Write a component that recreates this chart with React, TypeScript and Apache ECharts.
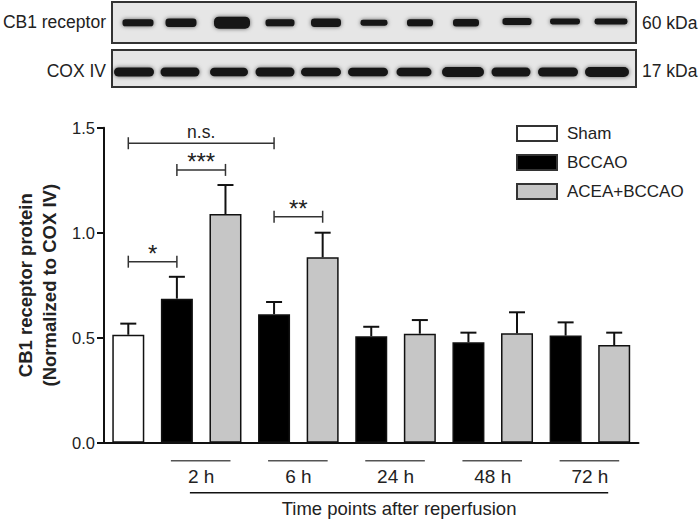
import React, { useEffect, useRef } from 'react';
import * as echarts from 'echarts';

// ---------- data ----------
const categories = [
  'Sham',
  'BCCAO 2 h', 'ACEA+BCCAO 2 h',
  'BCCAO 6 h', 'ACEA+BCCAO 6 h',
  'BCCAO 24 h', 'ACEA+BCCAO 24 h',
  'BCCAO 48 h', 'ACEA+BCCAO 48 h',
  'BCCAO 72 h', 'ACEA+BCCAO 72 h',
];
const timePoints = ['2 h', '6 h', '24 h', '48 h', '72 h'];
const seriesNames = ['Sham', 'BCCAO', 'ACEA+BCCAO'];

const shamMean = 0.514;
const shamSem = 0.053;
const bccaoMeans = [0.686, 0.612, 0.507, 0.478, 0.510];
const bccaoSems = [0.104, 0.058, 0.045, 0.046, 0.063];
const aceaMeans = [1.089, 0.883, 0.519, 0.521, 0.465];
const aceaSems = [0.138, 0.117, 0.065, 0.100, 0.059];

const yTickLabels = ['0.0', '0.5', '1.0', '1.5'];

// significance brackets (category index from / to, height, label)
const bracketFrom = [0, 1, 0, 3];
const bracketTo = [1, 2, 3, 4];
const bracketY = [0.862, 1.299, 1.426, 1.076];
const bracketLabel = ['*', '***', 'n.s.', '**'];

// western blot decoration (lane centres, band widths/heights)
const cb1LaneX = [138, 181, 232, 280, 326, 374, 420, 466, 517, 565, 611];
const cb1BandW = [31, 31, 36, 29, 30, 27, 26, 26, 29, 30, 33];
const cb1BandH = [7, 8.5, 12, 7, 8.5, 6, 7, 7.5, 7, 6, 6];
const coxLaneX = [134, 180, 229, 275, 321, 368, 414, 463, 511, 558, 607];
const coxBandW = [40, 39, 38, 39, 40, 40, 35, 42, 39, 40, 44];
const coxBandH = [9, 9, 8.5, 9, 8.5, 8.5, 8.5, 10, 9, 9, 10];

const FONT = 'Liberation Sans, Arial, Helvetica, sans-serif';
const TXT = '#222';

export default function App() {
  const ref = useRef<HTMLDivElement>(null);

  useEffect(() => {
    if (!ref.current) return;
    const chart = echarts.init(ref.current, null, { renderer: 'svg' });

    const shamData = categories.map((_, i) => (i === 0 ? shamMean : '-'));
    const bccaoData = categories.map((_, i) => {
      if (i > 0 && i % 2 === 1) return bccaoMeans[(i - 1) / 2];
      return '-';
    });
    const aceaData = categories.map((_, i) => {
      if (i > 0 && i % 2 === 0) return aceaMeans[(i - 2) / 2];
      return '-';
    });

    const errData: number[][] = [[0, shamMean, shamMean + shamSem]];
    bccaoMeans.forEach((m, g) => errData.push([1 + 2 * g, m, m + bccaoSems[g]]));
    aceaMeans.forEach((m, g) => errData.push([2 + 2 * g, m, m + aceaSems[g]]));

    const bracketData = bracketFrom.map((f, i) => [f, bracketTo[i], bracketY[i]]);
    const groupData = timePoints.map((_, g) => [1 + 2 * g, 2 + 2 * g, 0]);

    const barCommon = {
      type: 'bar' as const,
      barWidth: 32,
      barGap: '-100%',
      z: 3,
    };

    // blot graphics
    const blot: any[] = [];
    blot.push({
      type: 'rect', shape: { x: 112, y: 2, width: 524, height: 41 },
      style: { fill: '#e6e6e6', stroke: '#333', lineWidth: 2 },
    });
    blot.push({
      type: 'rect', shape: { x: 112, y: 50, width: 524, height: 37 },
      style: { fill: '#e6e6e6', stroke: '#333', lineWidth: 2 },
    });
    cb1LaneX.forEach((x, i) => {
      const w = cb1BandW[i], h = cb1BandH[i];
      const cy = i >= 8 ? 21.5 : 22.7;
      blot.push({
        type: 'rect',
        shape: { x: x - w / 2, y: cy - h / 2, width: w, height: h, r: h / 2.5 },
        style: { fill: '#151515', shadowBlur: 4, shadowColor: 'rgba(0,0,0,0.6)' },
      });
    });
    coxLaneX.forEach((x, i) => {
      const w = coxBandW[i], h = coxBandH[i];
      blot.push({
        type: 'rect',
        shape: { x: x - w / 2, y: 72 - h / 2, width: w, height: h, r: h / 2 },
        style: { fill: '#151515', shadowBlur: 4, shadowColor: 'rgba(0,0,0,0.6)' },
      });
    });
    const blotText = (t: string, x: number, y: number, align: string) => ({
      type: 'text', x, y,
      style: { text: t, fill: TXT, font: `17.5px ${FONT}`, textAlign: align, textVerticalAlign: 'middle' },
    });
    blot.push(blotText('CB1 receptor', 106, 22, 'right'));
    blot.push(blotText('COX IV', 106, 71, 'right'));
    blot.push(blotText('60 kDa', 642, 23, 'left'));
    blot.push(blotText('17 kDa', 642, 71, 'left'));

    chart.setOption({
      animation: false,
      backgroundColor: '#fff',
      textStyle: { fontFamily: FONT },
      grid: { left: 104, right: 61.5, top: 127.7, bottom: 78.3, containLabel: false },
      legend: {
        data: seriesNames,
        orient: 'vertical',
        left: 511,
        top: 120,
        itemWidth: 40,
        itemHeight: 15,
        itemGap: 12,
        icon: 'rect',
        itemStyle: { borderColor: '#333', borderWidth: 2 },
        textStyle: { fontSize: 17, color: TXT, fontFamily: FONT, padding: [0, 0, 0, 5] },
        selectedMode: false,
      },
      xAxis: {
        type: 'category',
        data: categories,
        axisLine: { lineStyle: { color: '#111', width: 2 } },
        axisTick: { alignWithLabel: true, length: 7, lineStyle: { color: '#111', width: 2 }, interval: 0 },
        axisLabel: { show: false },
      },
      yAxis: {
        type: 'value',
        min: 0,
        max: 1.5,
        interval: 0.5,
        name: 'CB1 receptor protein\n(Normalized to COX IV)',
        nameLocation: 'middle',
        nameRotate: 90,
        nameGap: 37,
        nameTextStyle: { fontSize: 18.5, fontWeight: 'bold', color: TXT, lineHeight: 24, fontFamily: FONT },
        axisLine: { show: true, lineStyle: { color: '#111', width: 2 } },
        axisTick: { show: true, length: 7, lineStyle: { color: '#111', width: 2 } },
        splitLine: { show: false },
        axisLabel: {
          fontSize: 16.5, color: TXT, margin: 9, fontFamily: FONT,
          formatter: (v: number) => yTickLabels[Math.round(v / 0.5)] ?? v.toFixed(1),
        },
      },
      graphic: blot,
      series: [
        { ...barCommon, name: 'Sham', data: shamData, itemStyle: { color: '#fff', borderColor: '#111', borderWidth: 1.5 } },
        { ...barCommon, name: 'BCCAO', data: bccaoData, itemStyle: { color: '#000', borderColor: '#111', borderWidth: 1.5 } },
        { ...barCommon, name: 'ACEA+BCCAO', data: aceaData, itemStyle: { color: '#c6c6c6', borderColor: '#111', borderWidth: 1.5 } },
        {
          type: 'custom',
          name: 'err',
          silent: true,
          z: 2,
          data: errData,
          encode: { x: 0, y: [1, 2] },
          renderItem: (params: any, api: any) => {
            const x = api.value(0);
            const p1 = api.coord([x, api.value(1)]);
            const p2 = api.coord([x, api.value(2)]);
            const st = { stroke: '#111', lineWidth: 2 };
            return {
              type: 'group',
              children: [
                { type: 'line', shape: { x1: p1[0], y1: p1[1], x2: p2[0], y2: p2[1] }, style: st },
                { type: 'line', shape: { x1: p2[0] - 8, y1: p2[1], x2: p2[0] + 8, y2: p2[1] }, style: st },
              ],
            };
          },
        },
        {
          type: 'custom',
          name: 'brackets',
          silent: true,
          clip: false,
          data: bracketData,
          encode: { x: [0, 1], y: 2 },
          renderItem: (params: any, api: any) => {
            const a = api.coord([api.value(0), api.value(2)]);
            const b = api.coord([api.value(1), api.value(2)]);
            const label = bracketLabel[params.dataIndex];
            const st = { stroke: '#333', lineWidth: 1.5 };
            const isStar = label.indexOf('*') >= 0;
            return {
              type: 'group',
              children: [
                { type: 'line', shape: { x1: a[0], y1: a[1], x2: b[0], y2: b[1] }, style: st },
                { type: 'line', shape: { x1: a[0], y1: a[1] - 6, x2: a[0], y2: a[1] + 6 }, style: st },
                { type: 'line', shape: { x1: b[0], y1: b[1] - 6, x2: b[0], y2: b[1] + 6 }, style: st },
                {
                  type: 'text',
                  x: (a[0] + b[0]) / 2,
                  y: a[1] - (isStar ? 8 : 11),
                  style: {
                    text: label, fill: TXT,
                    font: `${isStar ? 24 : 17.5}px ${FONT}`,
                    textAlign: 'center', textVerticalAlign: 'middle',
                  },
                },
              ],
            };
          },
        },
        {
          type: 'custom',
          name: 'groups',
          silent: true,
          clip: false,
          data: groupData,
          encode: { x: [0, 1], y: 2 },
          renderItem: (params: any, api: any) => {
            const c1 = api.coord([api.value(0), 0]);
            const c2 = api.coord([api.value(1), 0]);
            const y0 = c1[1];
            const st = { stroke: '#555', lineWidth: 1.5 };
            const children: any[] = [
              { type: 'line', shape: { x1: c1[0] - 6, y1: y0 + 18, x2: c2[0] + 5, y2: y0 + 18 }, style: st },
              {
                type: 'text', x: (c1[0] + c2[0]) / 2, y: y0 + 34,
                style: { text: timePoints[params.dataIndex], fill: TXT, font: `19px ${FONT}`, textAlign: 'center', textVerticalAlign: 'middle' },
              },
            ];
            if (params.dataIndex === 0) {
              const last = api.coord([categories.length - 1, 0]);
              const xs = c1[0] + 13;
              const xe = last[0] - 6;
              children.push({ type: 'line', shape: { x1: xs, y1: y0 + 50, x2: xe, y2: y0 + 50 }, style: { stroke: '#111', lineWidth: 1.5 } });
              children.push({
                type: 'text', x: (xs + xe) / 2, y: y0 + 66,
                style: { text: 'Time points after reperfusion', fill: TXT, font: `18.5px ${FONT}`, textAlign: 'center', textVerticalAlign: 'middle' },
              });
            }
            return { type: 'group', children };
          },
        },
      ],
    });

    return () => chart.dispose();
  }, []);

  return <div ref={ref} style={{ width: 700, height: 521, position: 'absolute', left: 0, top: 0 }} />;
}
